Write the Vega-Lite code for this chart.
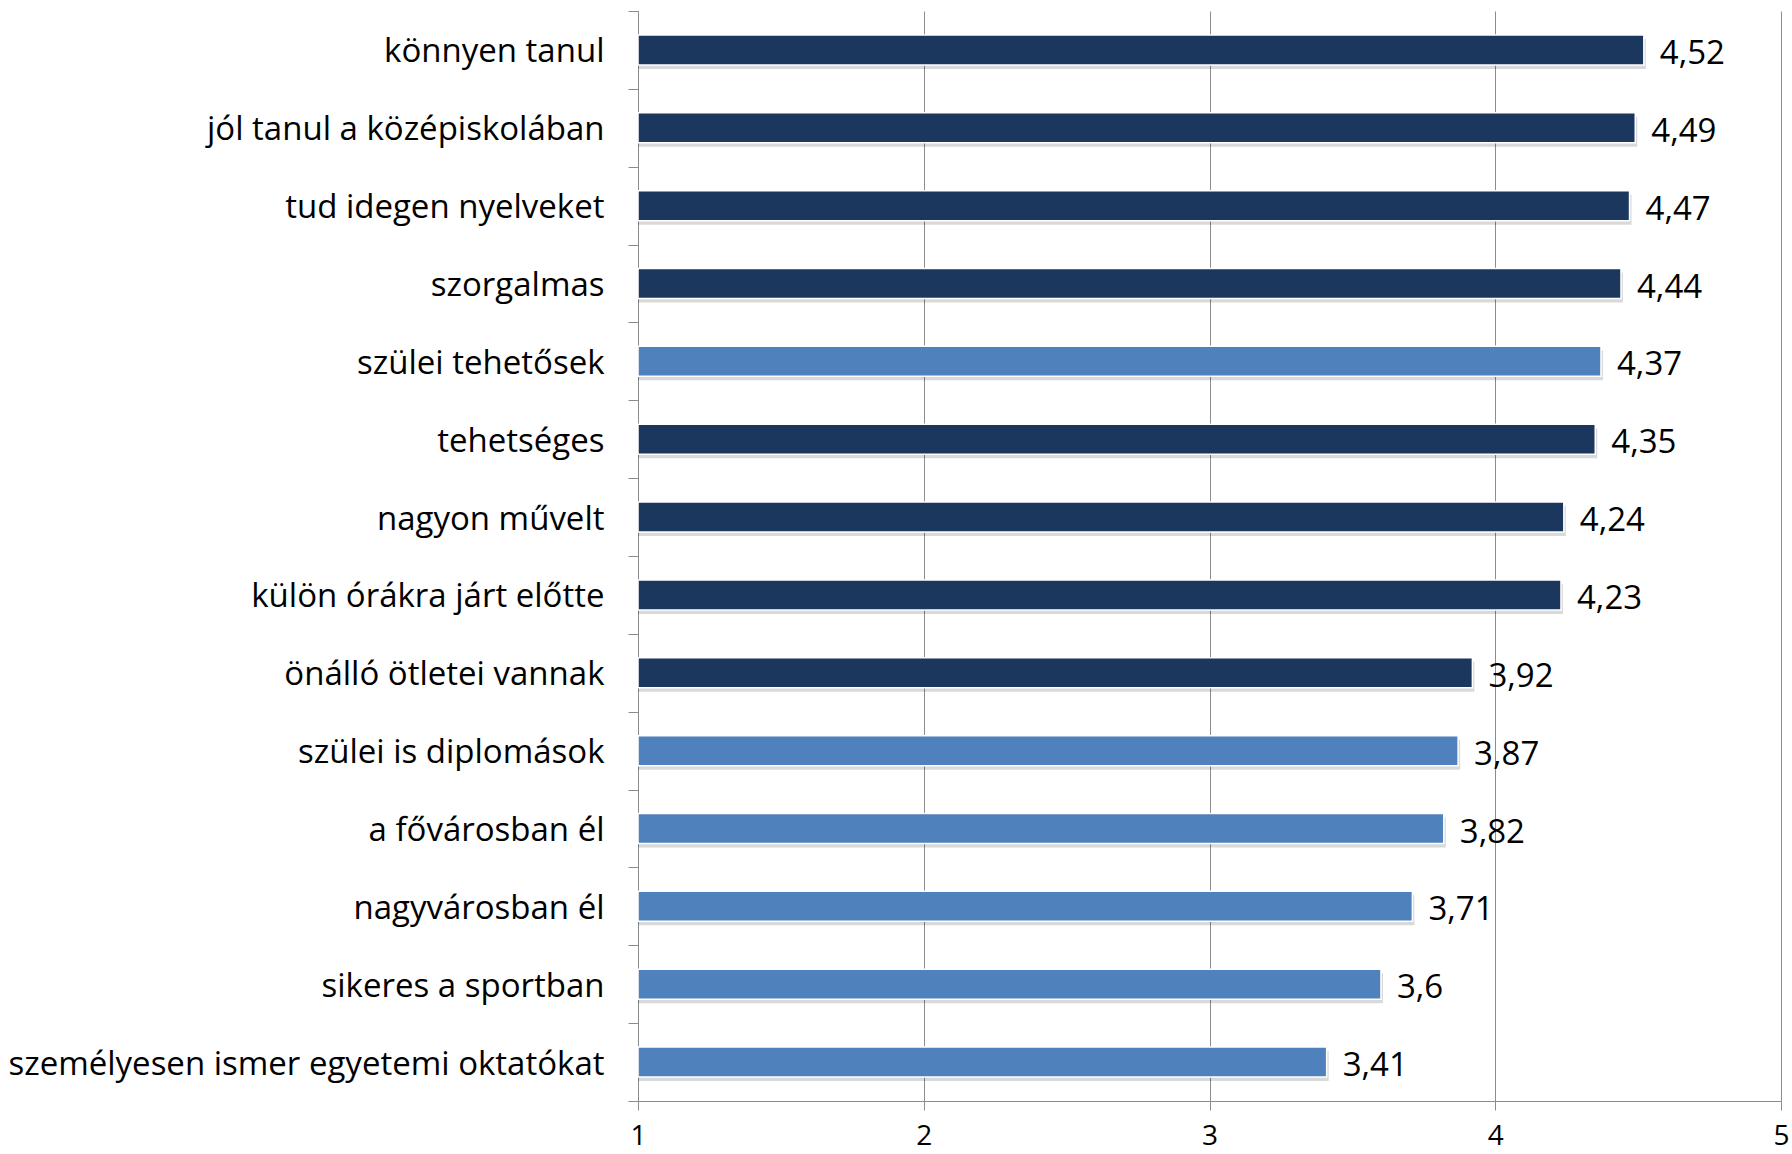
{
  "$schema": "https://vega.github.io/schema/vega-lite/v6.json",
  "autosize": "none",
  "width": 1143,
  "height": 1090,
  "padding": {"left": 638, "top": 11, "right": 11, "bottom": 53},
  "background": "white",
  "config": {
    "view": {"stroke": null},
    "locale": {"number": {"decimal": ",", "thousands": " ", "grouping": [3], "currency": ["", ""]}},
    "font": "Open Sans"
  },
  "data": {
    "values": [
      {"item": "könnyen tanul", "value": 4.52, "group": "a"},
      {"item": "jól tanul a középiskolában", "value": 4.49, "group": "a"},
      {"item": "tud idegen nyelveket", "value": 4.47, "group": "a"},
      {"item": "szorgalmas", "value": 4.44, "group": "a"},
      {"item": "szülei tehetősek", "value": 4.37, "group": "b"},
      {"item": "tehetséges", "value": 4.35, "group": "a"},
      {"item": "nagyon művelt", "value": 4.24, "group": "a"},
      {"item": "külön órákra járt előtte", "value": 4.23, "group": "a"},
      {"item": "önálló ötletei vannak", "value": 3.92, "group": "a"},
      {"item": "szülei is diplomások", "value": 3.87, "group": "b"},
      {"item": "a fővárosban él", "value": 3.82, "group": "b"},
      {"item": "nagyvárosban él", "value": 3.71, "group": "b"},
      {"item": "sikeres a sportban", "value": 3.6, "group": "b"},
      {"item": "személyesen ismer egyetemi oktatókat", "value": 3.41, "group": "b"}
    ]
  },
  "encoding": {
    "y": {
      "field": "item", "type": "nominal", "sort": null,
      "scale": {"paddingInner": 0, "paddingOuter": 0},
      "axis": {
        "title": null, "tickBand": "extent", "tickSize": 10, "labelPadding": 24,
        "labelFontSize": 33, "labelColor": "#000000", "labelFont": "Open Sans", "labelOffset": 2,
        "domainColor": "#8c8c8c", "tickColor": "#8c8c8c", "grid": false, "labelLimit": 700
      }
    },
    "x": {
      "field": "value", "type": "quantitative",
      "scale": {"domain": [1, 5], "nice": false, "zero": false},
      "axis": {
        "title": null, "values": [1, 2, 3, 4, 5], "tickSize": 9, "labelPadding": 34,
        "labelBaseline": "alphabetic", "labelFlush": false,
        "labelFontSize": 28, "labelColor": "#000000", "labelFont": "Open Sans",
        "domainColor": "#8c8c8c", "tickColor": "#8c8c8c",
        "grid": true, "gridColor": "#8c8c8c", "gridWidth": 1
      }
    }
  },
  "layer": [
    {
      "mark": {"type": "bar", "color": "#000000", "opacity": 0.15, "xOffset": 2, "yOffset": 4, "height": {"band": 0.385}},
      "encoding": {"x2": {"datum": 1}}
    },
    {
      "mark": {"type": "bar", "stroke": "white", "strokeWidth": 1.5, "height": {"band": 0.385}},
      "encoding": {
        "x2": {"datum": 1},
        "color": {
          "field": "group", "type": "nominal",
          "scale": {"domain": ["a", "b"], "range": ["#1B375E", "#4F81BD"]},
          "legend": null
        }
      }
    },
    {
      "mark": {"type": "text", "align": "left", "baseline": "middle", "dx": 16, "dy": 4, "fontSize": 33, "font": "Open Sans", "color": "#000000"},
      "encoding": {"text": {"field": "value", "type": "quantitative", "format": ".2~f"}}
    }
  ]
}
